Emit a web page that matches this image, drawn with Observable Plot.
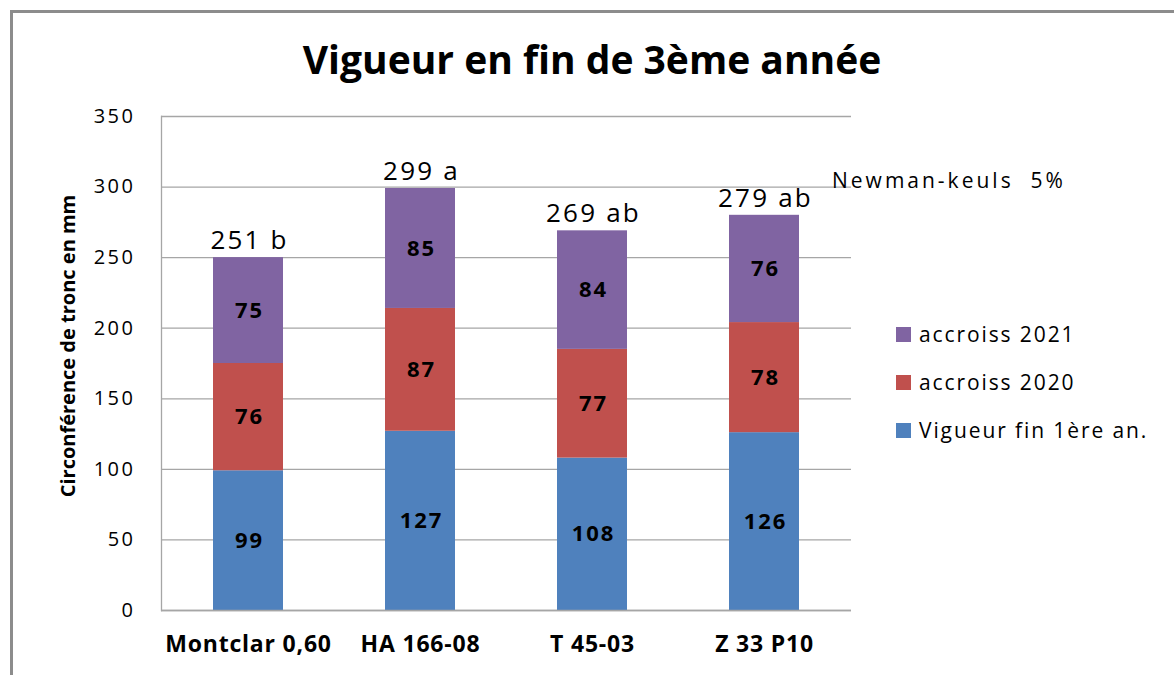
<!DOCTYPE html>
<html><head><meta charset="utf-8">
<script src="https://cdn.jsdelivr.net/npm/d3@7"></script>
<script src="https://cdn.jsdelivr.net/npm/@observablehq/plot@0.6"></script>
<style>
body{margin:0;background:#fff;font-family:"Open Sans",Lato,sans-serif;color:#000}
#wrap{position:relative;width:1174px;height:675px;overflow:hidden;background:#fff}
#border{position:absolute;left:10px;top:10px;width:1300px;height:800px;border-left:3px solid #8c8c8c;border-top:3px solid #8c8c8c;pointer-events:none}
#title{position:absolute;left:92px;width:1000px;top:34px;text-align:center;font-weight:700;font-size:39px;line-height:50px}
#chart{position:absolute;left:0;top:100px}
#ylabel{position:absolute;left:68px;top:346px;width:440px;text-align:center;font-weight:700;font-size:20px;line-height:24px;white-space:pre;transform:translate(-50%,-50%) rotate(-90deg)}
#note{position:absolute;left:832px;top:165px;font-size:21px;letter-spacing:3px;line-height:30px;white-space:pre}
.leg{position:absolute;left:896px;font-size:21px;letter-spacing:1.9px;line-height:26px;white-space:nowrap;display:flex;align-items:center}
.leg span.sw{display:inline-block;width:15px;height:15px;margin-right:8px}
#chart g[aria-label="y-axis tick label"] text{letter-spacing:2.5px}
#chart g[aria-label="x-axis tick label"] text{letter-spacing:0.8px}
#chart g[aria-description="segment labels"] text{letter-spacing:2px}
#chart g[aria-description="total labels"] text{letter-spacing:2.2px}
</style></head>
<body><div id="wrap"><div id="border"></div><div id="title"></div><div id="chart"></div><div id="ylabel"></div><div id="note"></div><div id="legend"></div></div>
<script>
const categories = ["Montclar 0,60", "HA 166-08", "T 45-03", "Z 33 P10"];
const series = ["Vigueur fin 1ère an.", "accroiss 2020", "accroiss 2021"];
const vigueur = [99, 127, 108, 126];
const acc2020 = [76, 87, 77, 78];
const acc2021 = [75, 85, 84, 76];
const totalLabels = ["251 b", "299 a", "269 ab", "279 ab"];
const colors = ["#4F81BD", "#C0504D", "#8064A2"];
const yTicks = [0, 50, 100, 150, 200, 250, 300, 350];
const titleText = "Vigueur en fin de 3ème année";
const yLabel = "Circonférence de tronc en mm";
const noteText = "Newman-keuls  5%";

const seriesValues = [vigueur, acc2020, acc2021];
const rows = [];
series.forEach((s, si) => categories.forEach((c, ci) => rows.push({cat: c, series: s, value: seriesValues[si][ci]})));
const totals = categories.map((c, ci) => ({cat: c, sum: seriesValues.reduce((a, v) => a + v[ci], 0), label: totalLabels[ci]}));

document.getElementById("title").textContent = titleText;
document.getElementById("note").textContent = noteText;
document.getElementById("ylabel").textContent = yLabel;

const font = "'Open Sans', Lato, sans-serif";
const chart = Plot.plot({
  width: 1174,
  height: 575,
  marginLeft: 161,
  marginRight: 323,
  marginTop: 16,
  marginBottom: 65,
  style: {fontFamily: font, background: "transparent", color: "#000"},
  x: {domain: categories, paddingInner: 0.594, paddingOuter: 0.297, label: null},
  y: {domain: [0, 350], label: null},
  color: {domain: series, range: colors},
  marks: [
    Plot.gridY(yTicks, {stroke: "#a6a6a6", strokeOpacity: 1, strokeWidth: 1.3}),
    Plot.frame({anchor: "left", stroke: "#a6a6a6", strokeWidth: 1.3}),
    Plot.barY(rows, {x: "cat", y: "value", fill: "series"}),
    Plot.ruleY([0], {stroke: "#a6a6a6", strokeWidth: 1.3}),
    Plot.text(rows, Plot.stackY({x: "cat", y: "value", text: d => String(d.value), fontWeight: "bold", fontSize: 22, dx: 1, fill: "#000", ariaDescription: "segment labels"})),
    Plot.text(totals, {x: "cat", y: "sum", text: "label", fontSize: 26, dx: 1, dy: -17, fill: "#000", ariaDescription: "total labels"}),
    Plot.axisY(yTicks, {tickSize: 0, tickPadding: 26, fontSize: 20, label: null}),
    Plot.axisX({tickSize: 0, tickPadding: 25, fontSize: 23, fontWeight: "bold", label: null})
  ]
});
document.getElementById("chart").appendChild(chart);

const legend = document.getElementById("legend");
const legTops = [321, 369, 417];
series.slice().reverse().forEach((s, i) => {
  const idx = series.length - 1 - i;
  const d = document.createElement("div");
  d.className = "leg";
  d.style.top = legTops[i] + "px";
  const sw = document.createElement("span");
  sw.className = "sw";
  sw.style.background = colors[idx];
  d.appendChild(sw);
  d.appendChild(document.createTextNode(s));
  legend.appendChild(d);
});
</script></body></html>
